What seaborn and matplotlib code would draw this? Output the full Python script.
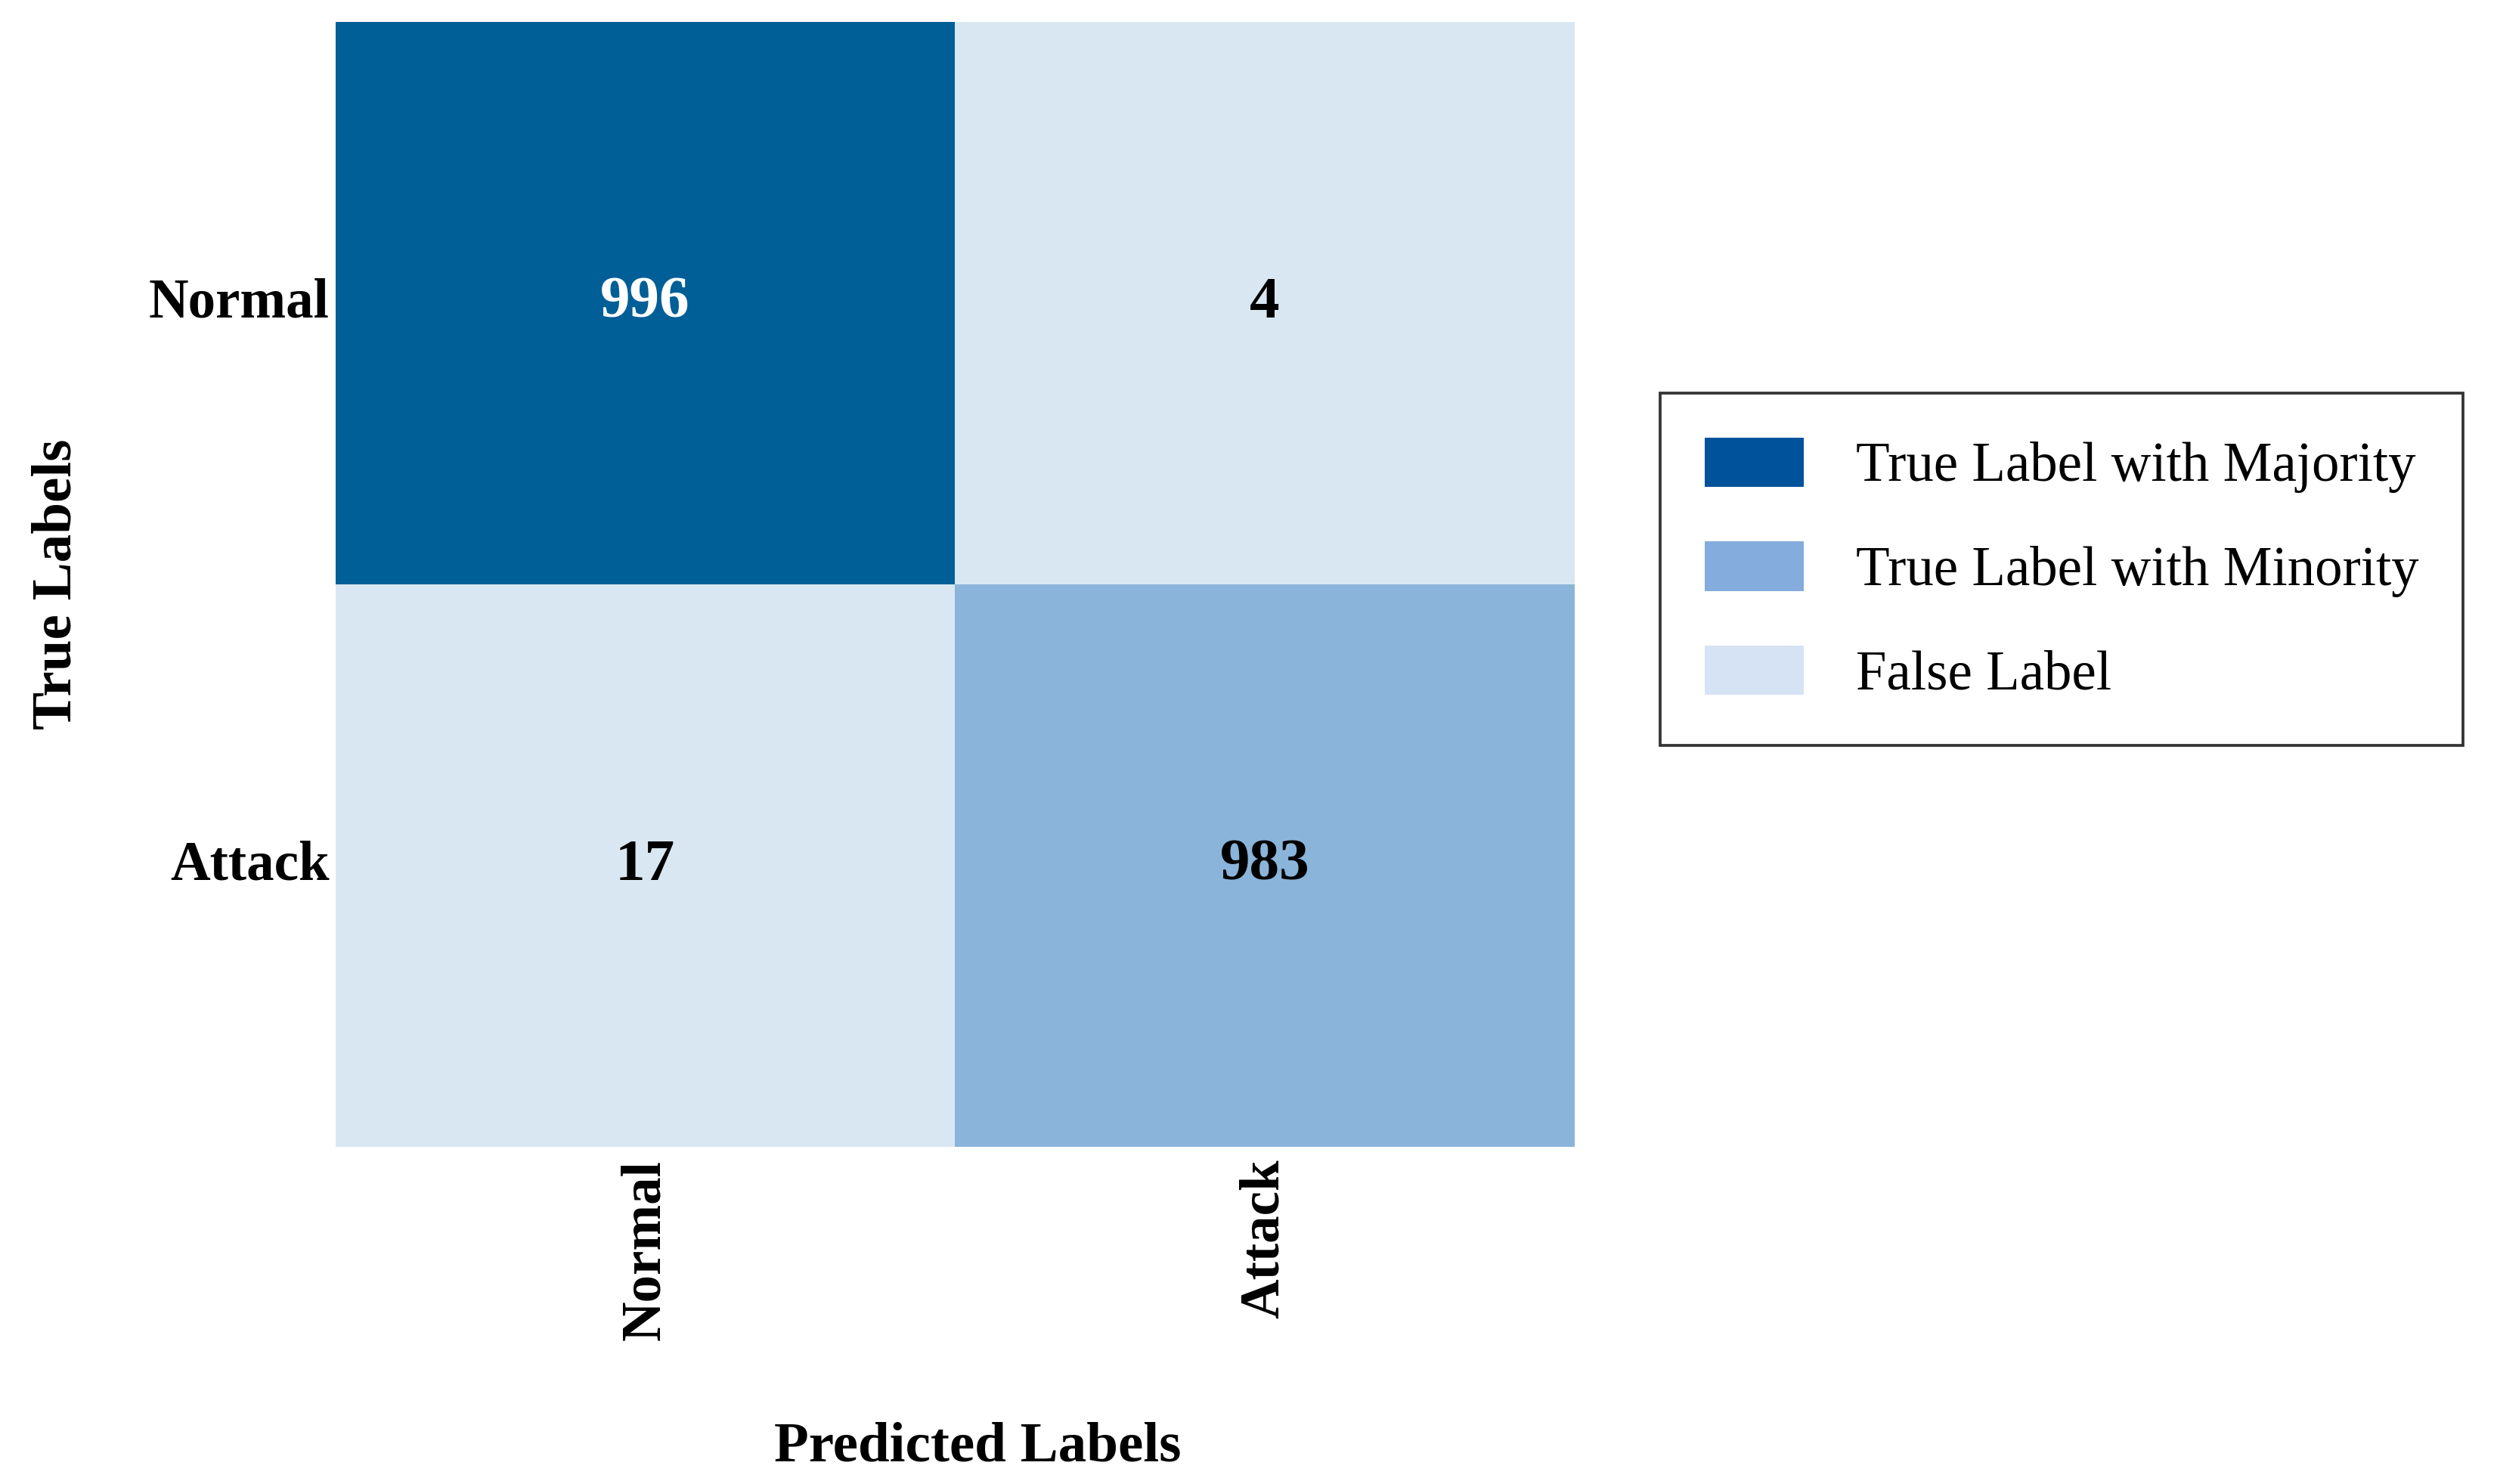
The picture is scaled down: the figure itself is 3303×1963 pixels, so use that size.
import numpy as np
import matplotlib
matplotlib.use('Agg')
import matplotlib.pyplot as plt
from matplotlib.colors import ListedColormap
from matplotlib.patches import Patch
import seaborn as sns

# data
class_names = ['Normal', 'Attack']
counts = np.array([[996, 4],
                   [17, 983]])
# 0 = false label, 1 = true label (minority), 2 = true label (majority)
cell_kind = np.array([[2, 0],
                      [0, 1]])
cell_colors = ['#d9e7f2', '#8ab4d9', '#005f96']
legend_labels = ['True Label with Majority', 'True Label with Minority', 'False Label']
legend_colors = ['#00529b', '#84acdc', '#d6e3f4']

sns.set_style('white')
plt.rcParams['font.family'] = ['Liberation Serif', 'DejaVu Serif']
plt.rcParams.update({'text.color': 'black', 'axes.labelcolor': 'black',
                     'xtick.color': 'black', 'ytick.color': 'black'})

fig = plt.figure(figsize=(3303 / 300, 1963 / 300), dpi=300)
ax = fig.add_axes([0.1344, 0.2272, 0.4962, 0.758])

sns.heatmap(cell_kind, ax=ax, cmap=ListedColormap(cell_colors), vmin=-0.5, vmax=2.5,
            annot=counts, fmt='d', cbar=False,
            annot_kws={'fontsize': 19, 'fontweight': 'bold'},
            xticklabels=class_names, yticklabels=class_names)

# text colour per cell
for t, kind in zip(ax.texts, cell_kind.flatten()):
    t.set_color('white' if kind == 2 else 'black')

ax.tick_params(length=0, labelsize=17.5)
ax.tick_params(axis='y', pad=2)
ax.tick_params(axis='x', pad=4)
plt.setp(ax.get_xticklabels(), rotation=90, fontweight='bold')
plt.setp(ax.get_yticklabels(), rotation=0, fontweight='bold')
ax.set_xlabel('Predicted Labels', fontsize=18, fontweight='bold', labelpad=26)
ax.xaxis.label.set_x(0.518)
ax.set_ylabel('True Labels', fontsize=18, fontweight='bold', labelpad=21)

handles = [Patch(facecolor=c, edgecolor='none') for c in legend_colors]
leg = fig.legend(handles, legend_labels, loc='upper left',
                 bbox_to_anchor=(0.665, 0.735), bbox_transform=fig.transFigure,
                 borderaxespad=0, fontsize=17.5, frameon=True, fancybox=False,
                 handlelength=1.8, handleheight=1.0, handletextpad=0.95,
                 labelspacing=0.88, borderpad=0.8)
leg.get_frame().set_edgecolor('black')
leg.get_frame().set_linewidth(0.9)

fig.savefig('out.png', dpi=300)
